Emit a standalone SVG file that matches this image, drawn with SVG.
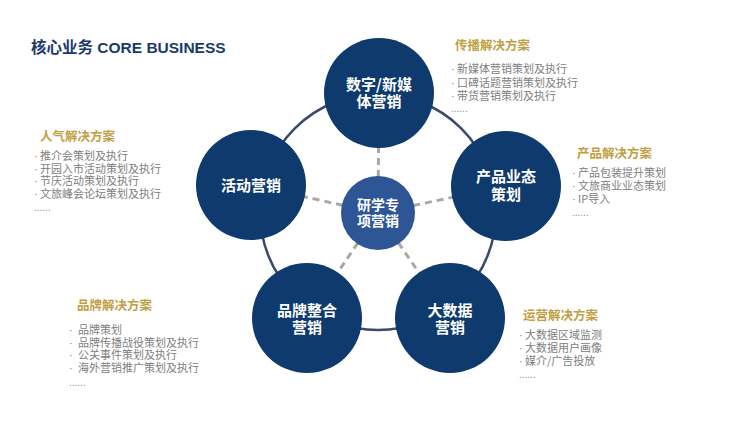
<svg xmlns="http://www.w3.org/2000/svg" width="750" height="421" viewBox="0 0 750 421">
<style>
.title{font-family:"Liberation Sans","Noto Sans CJK SC",sans-serif;font-weight:bold;font-size:15.5px;fill:#1b3a6b}
.outer{fill:#0e3a6d}
.inner{fill:#2e5596}
.ctext{font-family:"Noto Sans CJK SC",sans-serif;font-weight:bold;font-size:15px;fill:#ffffff;text-anchor:middle}
.itext{font-family:"Noto Sans CJK SC",sans-serif;font-weight:bold;font-size:14px;fill:#ffffff;text-anchor:middle}
.head{font-family:"Noto Sans CJK SC",sans-serif;font-weight:bold;font-size:12.5px;fill:#c1a043}
.item{font-family:"Noto Sans CJK SC",sans-serif;font-size:11px;fill:#808080}
.b{font-family:"Liberation Sans",sans-serif}
.dots{font-family:"Liberation Sans",sans-serif;font-size:10px;fill:#8c8c8c}
.dash{stroke:#a8a8a8;stroke-width:3;stroke-dasharray:7 5;fill:none}
</style>
<rect width="750" height="421" fill="#ffffff"/>
<text class="title" x="31" y="53">核心业务 CORE BUSINESS</text>

<g id="connectors">
<circle cx="378" cy="212" r="118" fill="none" stroke="#3b4a68" stroke-width="2.5"/>
<line class="dash" x1="378" y1="213" x2="379" y2="93"/>
<line class="dash" x1="378" y1="213" x2="251" y2="185"/>
<line class="dash" x1="378" y1="213" x2="506" y2="186"/>
<line class="dash" x1="378" y1="213" x2="307" y2="318"/>
<line class="dash" x1="378" y1="213" x2="450" y2="318"/>
</g>

<g id="node-top">
<circle class="outer" cx="379" cy="93" r="55"/>
<text class="ctext" x="379" y="89.5">数字/新媒</text>
<text class="ctext" x="379" y="106.5">体营销</text>
</g>
<g id="node-left">
<circle class="outer" cx="251" cy="185" r="55"/>
<text class="ctext" x="251" y="190.5">活动营销</text>
</g>
<g id="node-right">
<circle class="outer" cx="506" cy="186" r="55"/>
<text class="ctext" x="506" y="182">产品业态</text>
<text class="ctext" x="506" y="199.5">策划</text>
</g>
<g id="node-bl">
<circle class="outer" cx="307" cy="318" r="55"/>
<text class="ctext" x="307" y="315.5">品牌整合</text>
<text class="ctext" x="307" y="333">营销</text>
</g>
<g id="node-br">
<circle class="outer" cx="450" cy="318" r="55"/>
<text class="ctext" x="450" y="315.5">大数据</text>
<text class="ctext" x="450" y="333">营销</text>
</g>
<g id="node-center">
<circle class="inner" cx="378" cy="213" r="37"/>
<text class="itext" x="378" y="209.5">研学专</text>
<text class="itext" x="378" y="226">项营销</text>
</g>

<g id="list-top">
<text class="head" x="455" y="50">传播解决方案</text>
<text class="item" y="73"><tspan class="b" x="451">·</tspan><tspan x="457">新媒体营销策划及执行</tspan></text>
<text class="item" y="86.5"><tspan class="b" x="451">·</tspan><tspan x="457">口碑话题营销策划及执行</tspan></text>
<text class="item" y="100"><tspan class="b" x="451">·</tspan><tspan x="457">带货营销策划及执行</tspan></text>
<text class="dots" x="451" y="112">......</text>
</g>
<g id="list-left">
<text class="head" x="40" y="141">人气解决方案</text>
<text class="item" y="160"><tspan class="b" x="34">·</tspan><tspan x="40">推介会策划及执行</tspan></text>
<text class="item" y="172.5"><tspan class="b" x="34">·</tspan><tspan x="40">开园入市活动策划及执行</tspan></text>
<text class="item" y="185"><tspan class="b" x="34">·</tspan><tspan x="40">节庆活动策划及执行</tspan></text>
<text class="item" y="198"><tspan class="b" x="34">·</tspan><tspan x="40">文旅峰会论坛策划及执行</tspan></text>
<text class="dots" x="34" y="211">......</text>
</g>
<g id="list-right">
<text class="head" x="577" y="158">产品解决方案</text>
<text class="item" y="177"><tspan class="b" x="572">·</tspan><tspan x="578">产品包装提升策划</tspan></text>
<text class="item" y="190"><tspan class="b" x="572">·</tspan><tspan x="578">文旅商业业态策划</tspan></text>
<text class="item" y="203"><tspan class="b" x="572">·</tspan><tspan x="578">IP导入</tspan></text>
<text class="dots" x="572" y="216">......</text>
</g>
<g id="list-bl">
<text class="head" x="77" y="310">品牌解决方案</text>
<text class="item" y="334"><tspan class="b" x="69">·</tspan><tspan x="78">品牌策划</tspan></text>
<text class="item" y="346.5"><tspan class="b" x="69">·</tspan><tspan x="78">品牌传播战役策划及执行</tspan></text>
<text class="item" y="359"><tspan class="b" x="69">·</tspan><tspan x="78">公关事件策划及执行</tspan></text>
<text class="item" y="372"><tspan class="b" x="69">·</tspan><tspan x="78">海外营销推广策划及执行</tspan></text>
<text class="dots" x="69" y="386">......</text>
</g>
<g id="list-br">
<text class="head" x="523" y="320">运营解决方案</text>
<text class="item" y="339"><tspan class="b" x="519">·</tspan><tspan x="525">大数据区域监测</tspan></text>
<text class="item" y="352"><tspan class="b" x="519">·</tspan><tspan x="525">大数据用户画像</tspan></text>
<text class="item" y="365"><tspan class="b" x="519">·</tspan><tspan x="525">媒介/广告投放</tspan></text>
<text class="dots" x="519" y="378">......</text>
</g>
</svg>
